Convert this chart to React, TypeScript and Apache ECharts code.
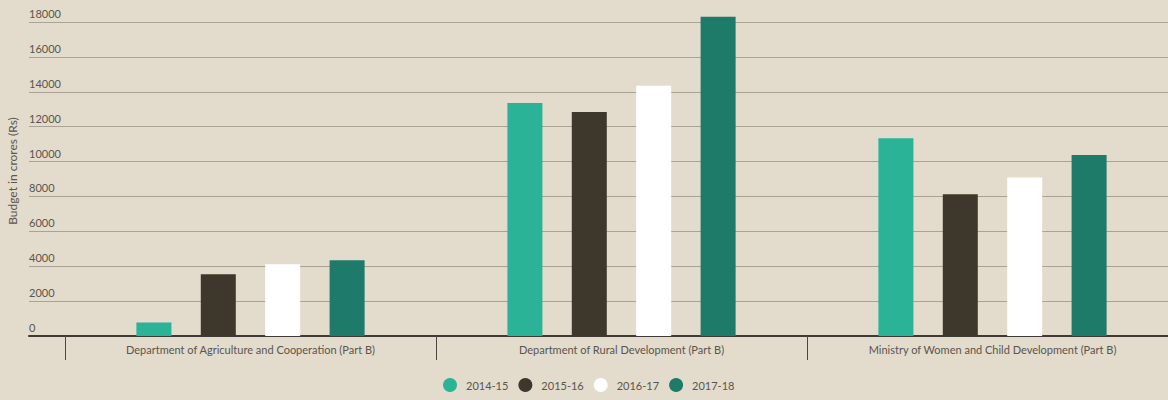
import React, { useEffect, useRef } from "react";
import * as echarts from "echarts";

const categories = [
  "Department of Agriculture and Cooperation (Part B)",
  "Department of Rural Development (Part B)",
  "Ministry of Women and Child Development (Part B)",
];
const seriesNames = ["2014-15", "2015-16", "2016-17", "2017-18"];
const values2014 = [780, 13350, 11330];
const values2015 = [3540, 12840, 8120];
const values2016 = [4110, 14340, 9090];
const values2017 = [4340, 18300, 10370];
const colors = ["#2ab397", "#3e372b", "#ffffff", "#1e7a69"];
const yTicks = { min: 0, max: 18000, interval: 2000 };

const FONT = "Lato";
const TEXT = "#5a554d";

export default function App() {
  const ref = useRef<HTMLDivElement>(null);
  useEffect(() => {
    if (!ref.current) return;
    const chart = echarts.init(ref.current, undefined, { renderer: "svg" });
    const data = [values2014, values2015, values2016, values2017];
    chart.setOption({
      animation: false,
      backgroundColor: "#e3dbcc",
      textStyle: { fontFamily: FONT },
      legend: {
        bottom: 3,
        left: 438,
        icon: "circle",
        itemWidth: 14,
        itemHeight: 14,
        itemGap: 10,
        textStyle: { color: TEXT, fontSize: 11, fontFamily: FONT, padding: [0, 0, 0, 4] },
        data: seriesNames,
      },
      grid: [
        { left: 29, right: 0, top: 22, bottom: 64, outerBoundsMode: "none" },
        { left: 65, width: 1113, top: 22, bottom: 64, outerBoundsMode: "none" },
      ],
      xAxis: [
        {
          type: "category",
          gridIndex: 0,
          data: [""],
          axisLine: { lineStyle: { color: "#3e3a33", width: 2 } },
          axisTick: { show: false },
          axisLabel: { show: false },
        },
        {
          type: "category",
          gridIndex: 1,
          data: categories,
          axisLine: { show: false },
          axisTick: { show: true, length: 24, lineStyle: { color: "#4a463f", width: 1 } },
          axisLabel: { color: TEXT, fontSize: 11, fontFamily: FONT, margin: 8 },
        },
      ],
      yAxis: [
        {
          type: "value",
          gridIndex: 0,
          min: yTicks.min,
          max: yTicks.max,
          interval: yTicks.interval,
          name: "Budget in crores (Rs)",
          nameLocation: "middle",
          nameGap: 10,
          nameTextStyle: { color: TEXT, fontSize: 12, fontFamily: FONT, padding: [0, 0, 0, 16] },
          axisLine: { show: false },
          axisTick: { show: false },
          axisLabel: {
            inside: true,
            margin: 0,
            verticalAlign: "bottom",
            padding: [0, 0, 3, 0],
            color: TEXT,
            fontSize: 11,
            fontFamily: FONT,
            formatter: (v: number) => String(v),
          },
          splitLine: { lineStyle: { color: "#aaa295", width: 1 } },
        },
        {
          type: "value",
          gridIndex: 1,
          min: yTicks.min,
          max: yTicks.max,
          interval: yTicks.interval,
          show: false,
          splitLine: { show: false },
        },
      ],
      series: data.map((vals, i) => ({
        name: seriesNames[i],
        type: "bar",
        xAxisIndex: 1,
        yAxisIndex: 1,
        data: vals,
        barWidth: 35,
        barGap: "84%",
        clip: false,
        itemStyle: { color: colors[i] },
      })),
    });
    return () => chart.dispose();
  }, []);
  return (
    <div
      ref={ref}
      style={{ position: "fixed", left: 0, top: 0, width: 1168, height: 400 }}
    />
  );
}
